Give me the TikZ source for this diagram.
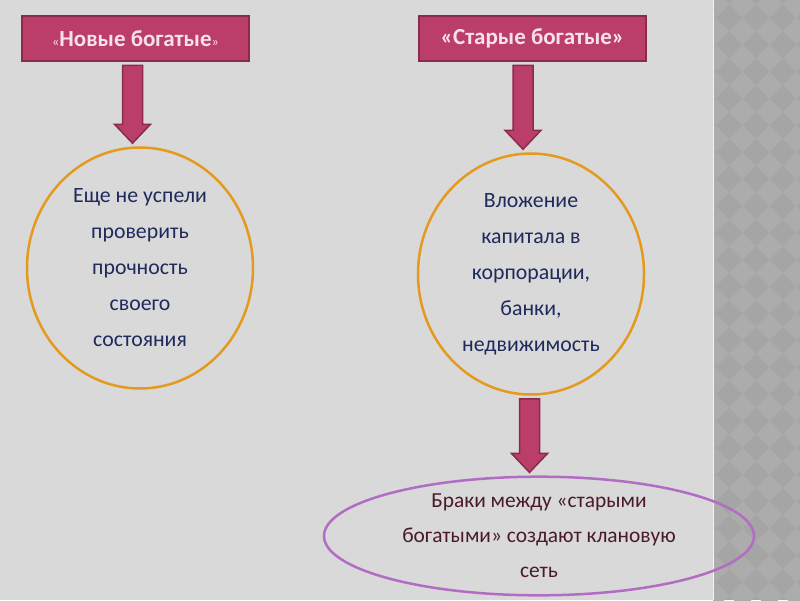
\documentclass[tikz,border=0pt]{standalone}
\usepackage{fontspec}
\setmainfont{Carlito}
\usetikzlibrary{shapes.geometric,calc}

\definecolor{slide}{HTML}{D9D9D9}
\definecolor{stripdark}{HTML}{A5A5A5}
\definecolor{striplight}{HTML}{ACACAC}
\definecolor{boxfill}{HTML}{BB3E6A}
\definecolor{boxedge}{HTML}{8A2B4E}
\definecolor{boxtext}{HTML}{F8E1EA}
\definecolor{ringcol}{HTML}{E39A1E}
\definecolor{notetext}{HTML}{1F2A5C}
\definecolor{ovalcol}{HTML}{B36CC4}
\definecolor{clantext}{HTML}{4A1A2C}

\tikzset{
  titlebox/.style={rectangle, draw=boxedge, line width=2.5pt, fill=boxfill, text=boxtext,
    minimum width=227pt, minimum height=45pt, font=\bfseries\fontsize{23}{27}\selectfont},
  roundnote/.style={ellipse, draw=ringcol, line width=2.5pt, minimum width=226pt,
    minimum height=241pt, inner sep=0pt, align=center, text=notetext,
    font=\fontsize{21.8}{36}\selectfont},
  wideoval/.style={ellipse, draw=ovalcol, line width=2.5pt, minimum width=430pt,
    minimum height=107pt, inner sep=0pt, align=center, text=clantext,
    font=\fontsize{21.4}{35}\selectfont},
  fatarrow/.style={draw=boxedge, fill=boxfill, line width=1.5pt, line join=miter},
}

% block arrow: from node, to node, x shift
\newcommand\blockarrow[3]{%
  \draw[fatarrow] let \p1=($(#1.south)+(#3,0)$), \p2=(#2.north) in
    (\x1-10pt,\y1-3pt) -- (\x1+10pt,\y1-3pt) -- (\x1+10pt,\y2+22pt)
    -- (\x1+18pt,\y2+22pt) -- (\x1,\y2+3pt) -- (\x1-18pt,\y2+22pt)
    -- (\x1-10pt,\y2+22pt) -- cycle;}

\begin{document}
\begin{tikzpicture}[x=1pt,y=-1pt]
\fill[slide] (0,0) rectangle (800,600);
\useasboundingbox (0,0) rectangle (800,600);
% side strip
\begin{scope}
\clip (713,0) rectangle (800,600);
\fill[stripdark] (713,0) rectangle (800,600);
\begin{scope}[rotate around={45:(756,300)}]
\foreach \i in {-18,...,18}
  \foreach \j in {-18,...,18} {
    \pgfmathtruncatemacro\parity{mod(\i+\j+50,2)}
    \ifnum\parity=0
      \fill[striplight] (756+\i*19,300+\j*19) rectangle ++(19,19);
    \fi
  }
\end{scope}
\end{scope}
\draw[line width=1.5pt, color=white!70!slide] (713.5,0) -- (713.5,600);

\node[titlebox] (neu) at (135.5,38.5) {{\mdseries\fontsize{14}{14}\selectfont«}Новые богатые{\mdseries\fontsize{14}{14}\selectfont»}};
\node[titlebox] (alt) at (532.5,38.5) {«Старые богатые»};

\node[roundnote] (neuring) at (140,268) {Еще не успели\\проверить\\прочность\\своего\\состояния};
\node[roundnote] (altring) at (531,274) {Вложение\\капитала в\\корпорации,\\банки,\\недвижимость};
\node[wideoval] (clan) at (539,536) {Браки между «старыми\\богатыми» создают клановую\\сеть};

\blockarrow{neu}{neuring}{-3}
\blockarrow{alt}{altring}{-9.5}
\blockarrow{altring}{clan}{-1.5}
\end{tikzpicture}
\end{document}
